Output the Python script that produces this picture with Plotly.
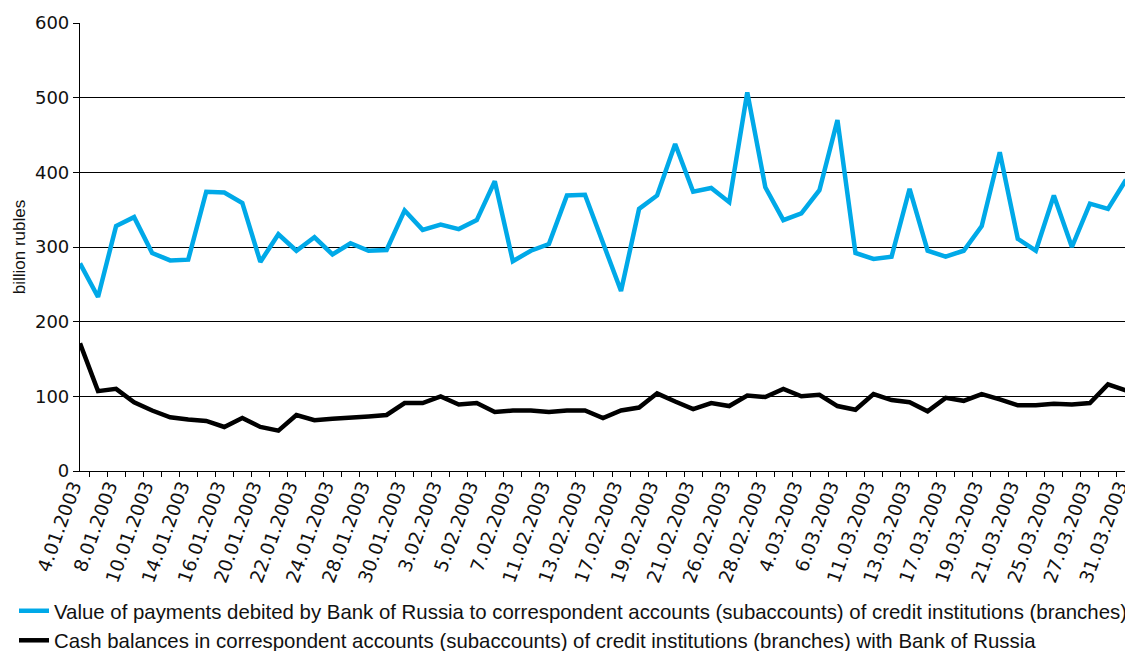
import plotly.graph_objects as go

dates = ["4.01.2003", "6.01.2003", "8.01.2003", "9.01.2003", "10.01.2003", "13.01.2003",
         "14.01.2003", "15.01.2003", "16.01.2003", "17.01.2003", "20.01.2003", "21.01.2003",
         "22.01.2003", "23.01.2003", "24.01.2003", "27.01.2003", "28.01.2003", "29.01.2003",
         "30.01.2003", "31.01.2003", "3.02.2003", "4.02.2003", "5.02.2003", "6.02.2003",
         "7.02.2003", "10.02.2003", "11.02.2003", "12.02.2003", "13.02.2003", "14.02.2003",
         "17.02.2003", "18.02.2003", "19.02.2003", "20.02.2003", "21.02.2003", "25.02.2003",
         "26.02.2003", "27.02.2003", "28.02.2003", "3.03.2003", "4.03.2003", "5.03.2003",
         "6.03.2003", "7.03.2003", "11.03.2003", "12.03.2003", "13.03.2003", "14.03.2003",
         "17.03.2003", "18.03.2003", "19.03.2003", "20.03.2003", "21.03.2003", "24.03.2003",
         "25.03.2003", "26.03.2003", "27.03.2003", "28.03.2003", "31.03.2003"]

payments = [278, 233, 328, 340, 292, 282, 283, 374, 373, 359,
            280, 317, 295, 313, 290, 305, 295, 296, 349, 323,
            330, 324, 336, 388, 281, 295, 304, 369, 370, 307,
            241, 351, 369, 438, 374, 379, 360, 507, 380, 336,
            345, 376, 470, 292, 284, 287, 378, 295, 287, 295,
            328, 427, 311, 295, 369, 300, 358, 351, 390]

balances = [171, 107, 110, 92, 81, 72, 69, 67, 59, 71,
            59, 54, 75, 68, 70, 71, 73, 75, 91, 91,
            100, 89, 91, 79, 81, 81, 79, 81, 81, 71,
            81, 85, 104, 93, 83, 91, 87, 101, 99, 110,
            100, 102, 87, 82, 103, 95, 92, 80, 98, 94,
            103, 96, 88, 88, 90, 89, 91, 116, 108]

name_payments = "Value of payments debited by Bank of Russia to correspondent accounts (subaccounts) of credit institutions (branches)"
name_balances = "Cash balances in correspondent accounts (subaccounts) of credit institutions (branches) with Bank of Russia"

y_ticks = [0, 100, 200, 300, 400, 500, 600]
tick_text = [d if i % 2 == 0 else "" for i, d in enumerate(dates)]

SANS = "Liberation Sans, Arial, sans-serif"
WIDE = "DejaVu Sans, sans-serif"

# the page body adds an 8px offset, so the figure is 8px smaller than the window
W, H = 1125, 643
ML, MR, MT, MB = 72, 7, 15, 180
plot_w = W - ML - MR
plot_h = H - MT - MB

fig = go.Figure()
fig.add_trace(go.Scatter(x=dates, y=payments, mode="lines", name=name_payments,
                         line=dict(color="#00A9E8", width=4.5)))
fig.add_trace(go.Scatter(x=dates, y=balances, mode="lines", name=name_balances,
                         line=dict(color="#000000", width=4.5)))

fig.update_layout(
    width=W, height=H,
    margin=dict(l=ML, r=MR, t=MT, b=MB, autoexpand=False),
    paper_bgcolor="white", plot_bgcolor="white",
    font=dict(family=SANS, size=17, color="#111111"),
    showlegend=True,
    legend=dict(orientation="v", x=(-ML + 6) / plot_w, xanchor="left",
                y=-120 / plot_h, yanchor="top",
                font=dict(family=SANS, size=20.4, color="#111111"),
                bgcolor="rgba(0,0,0,0)", tracegroupgap=0, itemwidth=30),
    xaxis=dict(type="category", categoryorder="array", categoryarray=dates,
               tickmode="array", tickvals=dates, ticktext=tick_text,
               tickson="boundaries", ticks="outside", ticklen=5, tickcolor="#000000",
               tickwidth=1, tickangle=-70, showgrid=False, showline=True,
               linecolor="#000000", linewidth=1.2, zeroline=False, automargin=False,
               ticklabelstandoff=-4, ticklabelshift=-7,
               tickfont=dict(family=WIDE, size=18.6, color="#111111")),
    yaxis=dict(range=[0, 600], tickvals=y_ticks, ticks="outside", ticklen=6,
               tickcolor="#000000", showgrid=True, gridcolor="#000000", gridwidth=1,
               showline=True, linecolor="#000000", linewidth=1.2, zeroline=False,
               automargin=False,
               title=dict(text="billion rubles", font=dict(family=SANS, size=17), standoff=4),
               tickfont=dict(family=WIDE, size=18, color="#111111")),
)

fig.write_html("out.html")
